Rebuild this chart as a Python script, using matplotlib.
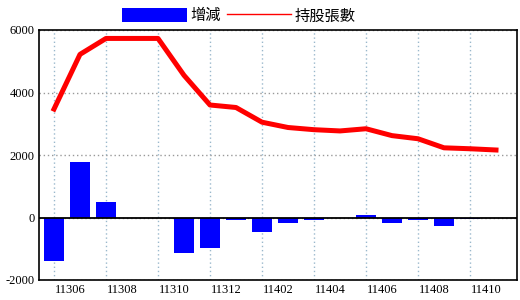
import matplotlib
matplotlib.use('Agg')
import matplotlib.pyplot as plt
from matplotlib.patches import Patch
from matplotlib.lines import Line2D

# monthly data (ROC year + month)
months = ['11306', '11307', '11308', '11309', '11310', '11311', '11312', '11401', '11402',
          '11403', '11404', '11405', '11406', '11407', '11408', '11409', '11410', '11411']
change = [-1400, 1780, 510, 0, 0, -1150, -970, -80, -470,
          -160, -70, 0, 70, -190, -90, -280, -60, 0]
holding = [3470, 5220, 5730, 5730, 5730, 4550, 3600, 3520, 3050,
           2880, 2810, 2770, 2840, 2620, 2520, 2230, 2200, 2160]
yticks = [-2000, 0, 2000, 4000, 6000]

plt.rcParams['font.family'] = ['Noto Sans CJK TC', 'DejaVu Sans']

fig = plt.figure(figsize=(5.2, 3.0), dpi=100)
ax = fig.add_axes([39 / 520, 1 - 280 / 300, 478 / 520, 250 / 300])

x = list(range(len(months)))
ax.bar(x, change, width=0.77, color='#0000FF', zorder=2)
ax.plot(x, holding, color='#FF0000', lw=3.6, zorder=3)
ax.axhline(0, color='black', lw=1.3, zorder=2.5)

ax.set_xlim(-15 / 26, 463 / 26)
ax.set_ylim(-2000, 6000)

ax.set_yticks(yticks)
ax.set_yticklabels([str(v) for v in yticks], family='Liberation Serif', fontsize=9)
# gridlines on the month, labels sit a bit to the right of them
ax.set_xticks(x[::2])
ax.set_xticklabels([])
ax.set_xticks([i + 16 / 26 for i in x[::2]], minor=True)
ax.set_xticklabels(months[::2], minor=True, family='Liberation Serif', fontsize=9)
ax.tick_params(which='both', length=0, pad=3)

ax.grid(axis='x', which='major', color='#9ab8cc', linestyle=(0, (1, 2)), lw=1, zorder=0)
ax.grid(axis='y', color='#999999', linestyle=(0, (1, 2)), lw=1, zorder=0)
ax.set_axisbelow(True)
for s in ax.spines.values():
    s.set_color('black')
    s.set_linewidth(1.2)

handles = [Patch(facecolor='#0000FF', edgecolor='none'),
           Line2D([0], [0], color='#FF0000', lw=1)]
fig.legend(handles, ['增減', '持股張數'], loc='center', bbox_to_anchor=(0.46, 0.947),
           ncol=2, frameon=False, fontsize=11, handlelength=4.2, handleheight=1.05,
           handletextpad=0.25, columnspacing=0.4, borderaxespad=0, borderpad=0)

fig.savefig('out.png', dpi=100)
